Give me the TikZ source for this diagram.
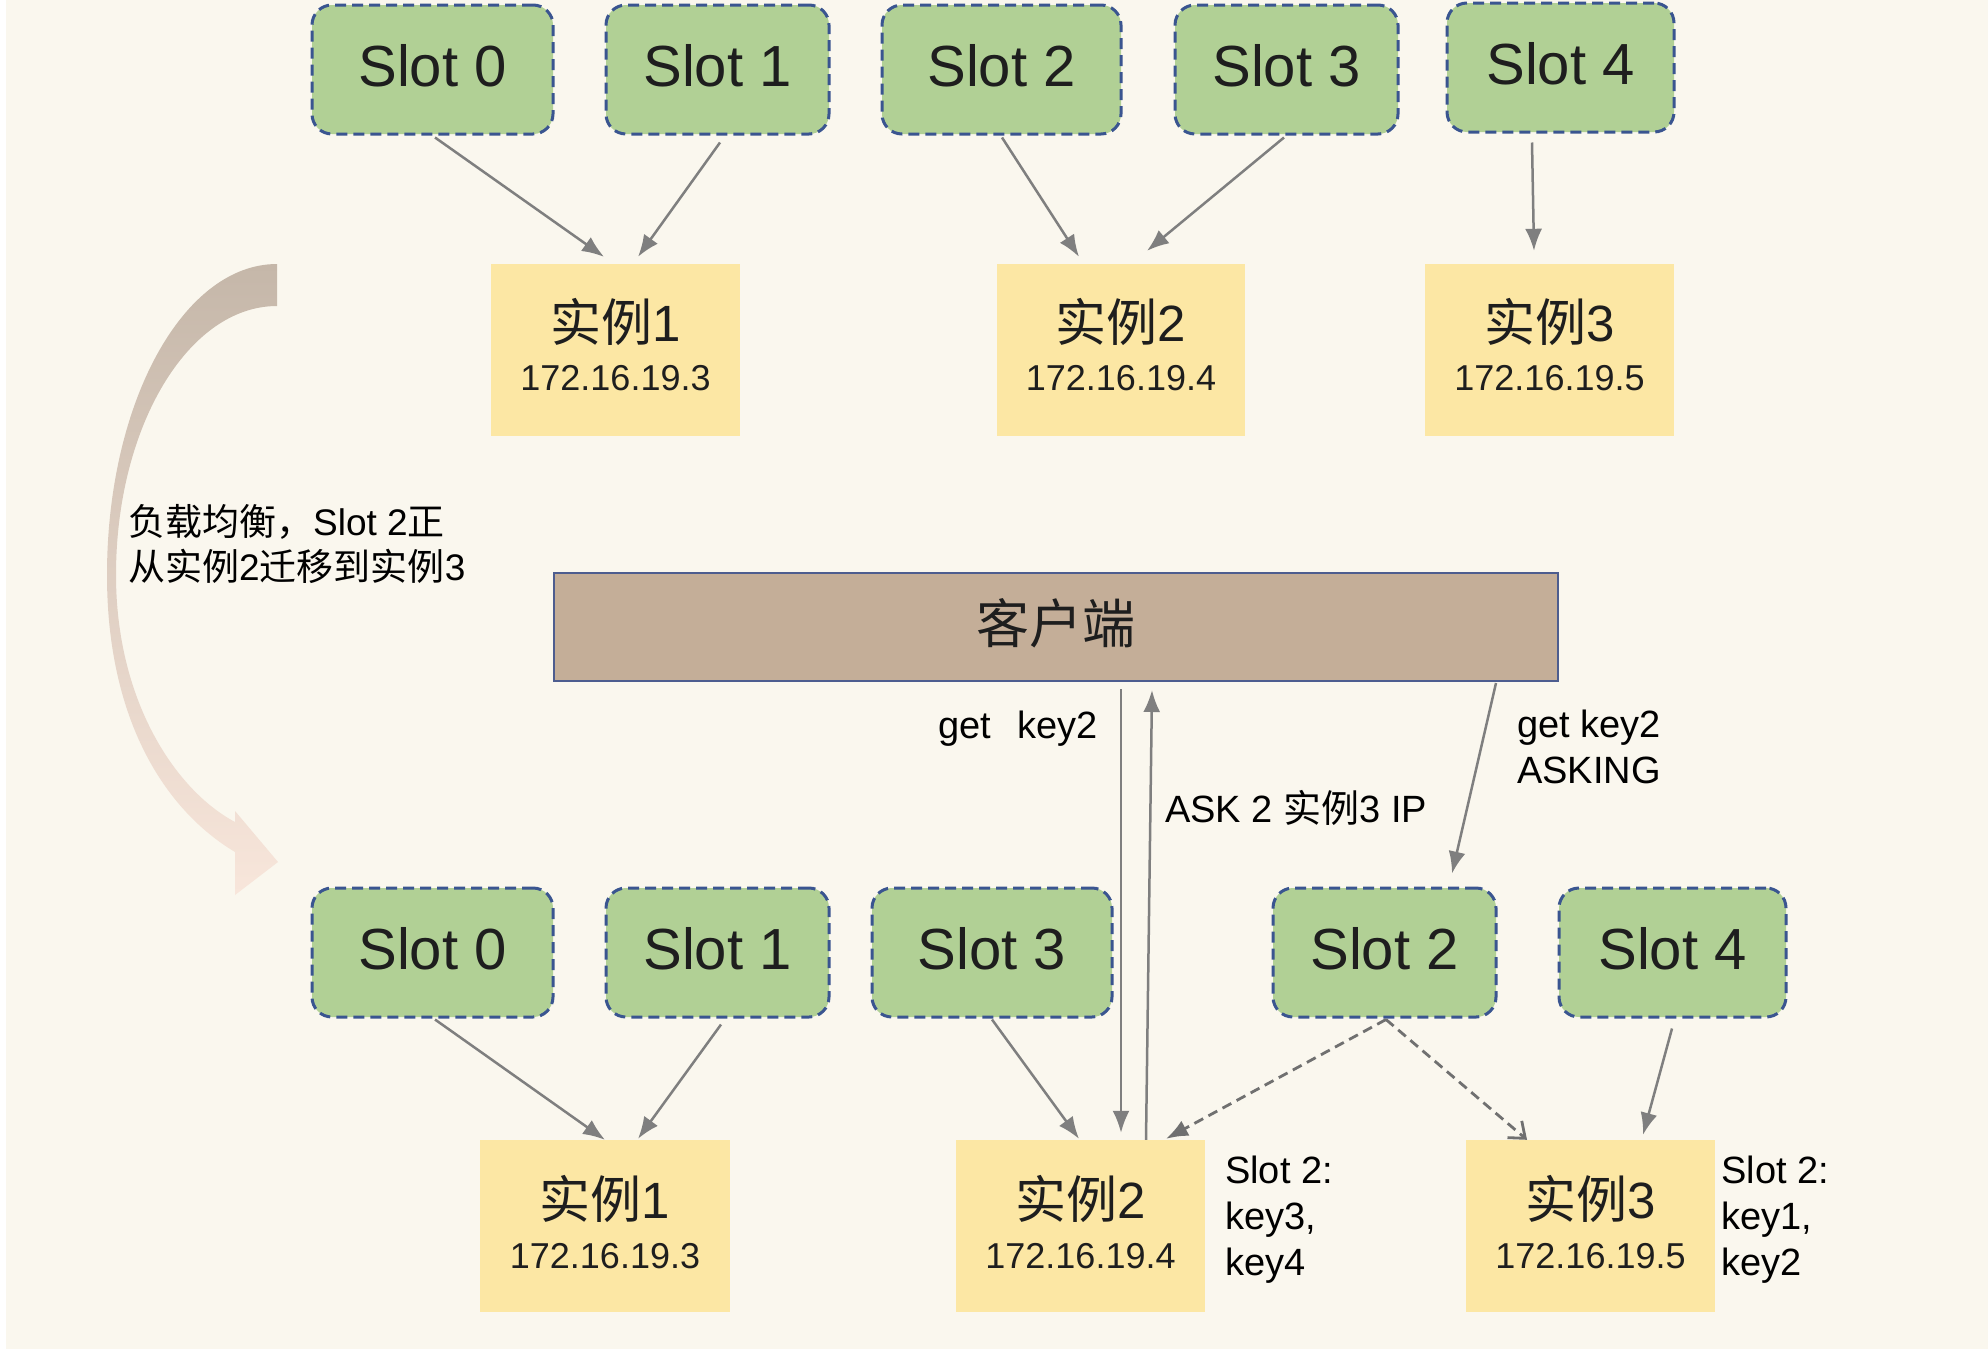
\documentclass[tikz,border=0pt]{standalone}
\usepackage{fontspec}
\setmainfont{Liberation Sans}
\newfontfamily\cjk{Noto Sans CJK SC}
\usetikzlibrary{arrows.meta,calc}
\definecolor{bgc}{HTML}{FAF7EE}
\definecolor{slotgreen}{HTML}{B1D095}
\definecolor{slotblue}{HTML}{3A5590}
\definecolor{instyellow}{HTML}{FCE7A4}
\definecolor{clientfill}{HTML}{C4AE98}
\definecolor{clientedge}{HTML}{4D5D8F}
\definecolor{arrgray}{HTML}{7F7F7F}
\definecolor{darrgray}{HTML}{707070}
\definecolor{txt}{HTML}{1E1E1E}
\definecolor{curvetop}{HTML}{C5B7A9}
\definecolor{curvebot}{HTML}{F8E6DB}
\begin{document}
\begin{tikzpicture}[x=1pt,y=-1pt,
  slotbox/.style={draw=slotblue, line width=3pt, dash pattern=on 11pt off 6pt,
    rounded corners=20pt, fill=slotgreen, minimum height=129pt, inner sep=0pt,
    text height=42pt, text depth=8pt,
    font=\fontsize{58}{60}\selectfont, text=txt},
  instbox/.style={fill=instyellow, minimum height=172pt, inner sep=0pt},
  insttitle/.style={font=\fontsize{51}{56}\selectfont, text=txt, inner sep=0pt},
  instip/.style={font=\fontsize{36}{40}\selectfont, text=txt, inner sep=0pt},
  clientbox/.style={fill=clientfill, draw=clientedge, line width=2pt,
    minimum width=1004pt, minimum height=108pt, inner sep=0pt,
    text height=46pt, text depth=14pt,
    font=\fontsize{53}{56}\selectfont, text=txt},
  conn/.style={draw=arrgray, line width=2.5pt, -{Latex[length=22pt,width=17pt]}},
  dconn/.style={draw=darrgray, line width=2.8pt, dash pattern=on 10pt off 6pt,
    -{Latex[length=22pt,width=17pt]}},
  oconn/.style={draw=darrgray, line width=2.8pt, dash pattern=on 10pt off 6pt,
    -{Straight Barb[length=14pt,width=22pt]}},
  lbl/.style={font=\fontsize{38}{46}\selectfont, text=black, inner sep=0pt, align=left},
  biglbl/.style={font=\fontsize{37}{45}\selectfont, text=black, inner sep=0pt, align=left}
]
% background
\fill[white] (0,0) rectangle (1988,1352);
\fill[bgc] (6,0) rectangle (1988,1349);
\useasboundingbox (0,0) rectangle (1988,1352);

% curved migration arrow
\shade[top color=curvetop, bottom color=curvebot]
  (277,264) .. controls (183,264) and (107,403) .. (107,575)
  .. controls (107,720) and (165,810) .. (235,852)
  -- (235,895) -- (278,862) -- (235,811) -- (235,822)
  .. controls (175,790) and (116,700) .. (116,575)
  .. controls (116,427) and (188,306) .. (277,306) -- cycle;
\node[biglbl, anchor=north west] (mig) at (128,504)
  {{\cjk 负载均衡，}Slot 2{\cjk 正}\\{\cjk 从实例}2{\cjk 迁移到实例}3};

% top row slots
\node[slotbox, minimum width=241pt] (S0) at (432.5,69.5) {Slot 0};
\node[slotbox, minimum width=223pt] (S1) at (717.5,69.5) {Slot 1};
\node[slotbox, minimum width=239pt] (S2) at (1001.5,69.5) {Slot 2};
\node[slotbox, minimum width=223pt] (S3) at (1286.5,69.5) {Slot 3};
\node[slotbox, minimum width=227pt] (S4) at (1560.5,67.5) {Slot 4};

% top row instances
\node[instbox, minimum width=249pt] (I1) at (615.5,350) {};
\node[instbox, minimum width=248pt] (I2) at (1121,350) {};
\node[instbox, minimum width=249pt] (I3) at (1549.5,350) {};
\node[insttitle] (I1t) at ($(I1)+(0,-28)$) {{\cjk 实例}1};
\node[instip] (I1i) at ($(I1)+(0,28)$) {172.16.19.3};
\node[insttitle] (I2t) at ($(I2)+(0,-28)$) {{\cjk 实例}2};
\node[instip] (I2i) at ($(I2)+(0,28)$) {172.16.19.4};
\node[insttitle] (I3t) at ($(I3)+(0,-28)$) {{\cjk 实例}3};
\node[instip] (I3i) at ($(I3)+(0,28)$) {172.16.19.5};

% top arrows
\draw[conn] ($(S0.south)+(2.5,2)$) -- ($(I1.north)+(-11.5,-7)$);
\draw[conn] ($(S1.south)+(2.5,7)$) -- ($(I1.north)+(22.5,-7)$);
\draw[conn] ($(S2.south)+(0.5,2)$) -- ($(I2.north)+(-42,-7)$);
\draw[conn] ($(S3.south)+(-2.5,2)$) -- ($(I2.north)+(26,-13)$);
\draw[conn] ($(S4.south)+(-28.5,9)$) -- ($(I3.north)+(-15.5,-13)$);

% client
\node[clientbox] (C) at (1056,627) {{\cjk 客户端}};

% bottom row slots
\node[slotbox, minimum width=241pt] (B0) at (432.5,952.5) {Slot 0};
\node[slotbox, minimum width=223pt] (B1) at (717.5,952.5) {Slot 1};
\node[slotbox, minimum width=240pt] (B3) at (992,952.5) {Slot 3};
\node[slotbox, minimum width=223pt] (B2) at (1384.5,952.5) {Slot 2};
\node[slotbox, minimum width=227pt] (B4) at (1672.5,952.5) {Slot 4};

% bottom row instances
\node[instbox, minimum width=250pt] (J1) at (605,1226) {};
\node[instbox, minimum width=249pt] (J2) at (1080.5,1226) {};
\node[instbox, minimum width=249pt] (J3) at (1590.5,1226) {};
\node[insttitle] (J1t) at ($(J1)+(0,-27)$) {{\cjk 实例}1};
\node[instip] (J1i) at ($(J1)+(0,30)$) {172.16.19.3};
\node[insttitle] (J2t) at ($(J2)+(0,-27)$) {{\cjk 实例}2};
\node[instip] (J2i) at ($(J2)+(0,30)$) {172.16.19.4};
\node[insttitle] (J3t) at ($(J3)+(0,-27)$) {{\cjk 实例}3};
\node[instip] (J3i) at ($(J3)+(0,30)$) {172.16.19.5};

% bottom arrows
\draw[conn] ($(B0.south)+(2.5,1)$) -- ($(J1.north)+(0,0)$);
\draw[conn] ($(B1.south)+(3.5,6)$) -- ($(J1.north)+(33,-1)$);
\draw[conn] ($(B3.south)+(0,1)$) -- ($(J2.north)+(-1.5,-1)$);
\draw[conn] ($(B4.south)+(-0.5,10)$) -- ($(J3.north)+(52.5,-5)$);
\draw[dconn] ($(B2.south)+(1.5,1)$) -- ($(J2.north)+(85.5,-1)$);
\draw[oconn] ($(B2.south)+(1.5,1)$) -- ($(J3.north)+(-63.5,0)$);

% client arrows
\draw[conn] ($(C.south)+(65,7)$) -- ($(J2.north)+(40.5,-7)$);
\draw[conn] ($(J2.north)+(65.5,0)$) -- ($(C.south)+(96,8)$);
\draw[conn] ($(C.south)+(440,1)$) -- ($(B2.north)+(67.5,-13)$);

% labels
\node[lbl, anchor=base east] (lget) at (1098,738) {get\hspace{26pt}key2};
\node[lbl, anchor=base west] (lask) at (1165,822) {ASK 2 {\cjk 实例}3 IP};
\node[lbl, anchor=north west] (lgetask) at (1517,710) {get key2\\ASKING};
\node[lbl, anchor=north west] (lk34) at (1225,1156) {Slot 2:\\key3,\\key4};
\node[lbl, anchor=north west] (lk12) at (1721,1156) {Slot 2:\\key1,\\key2};
\end{tikzpicture}
\end{document}
